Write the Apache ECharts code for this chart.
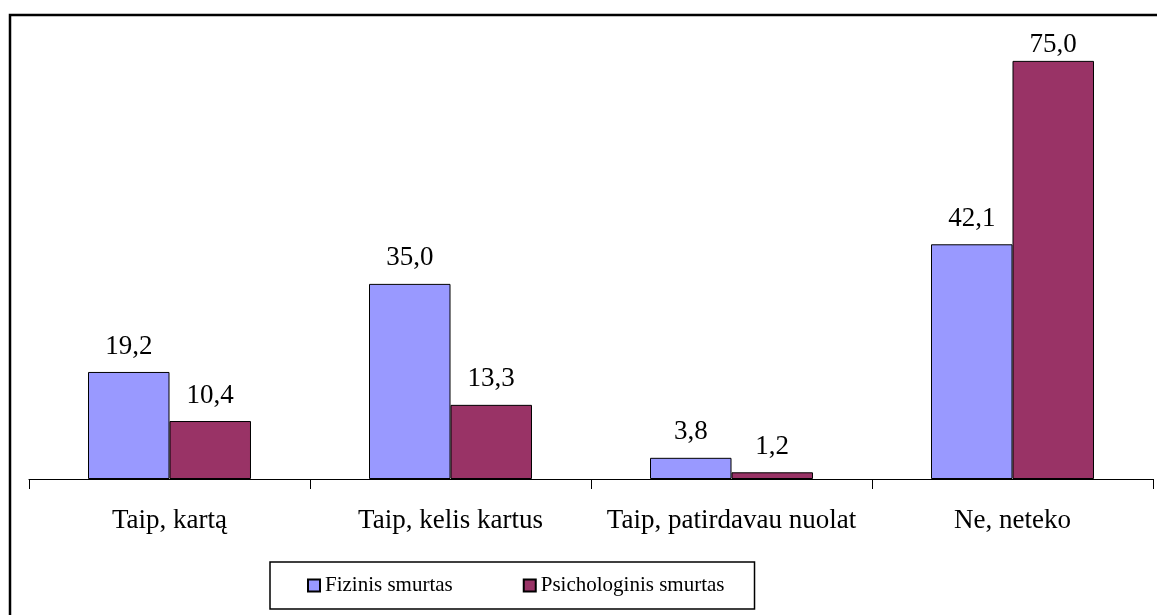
<!DOCTYPE html>
<html>
<head>
<meta charset="utf-8">
<script src="https://cdn.jsdelivr.net/npm/echarts@6/dist/echarts.min.js"></script>
<style>
  html, body { margin: 0; padding: 0; background: #fff; }
  #chart { width: 1157px; height: 615px; }
</style>
</head>
<body>
<div id="chart"></div>
<script>
const categories = ['Taip, kartą', 'Taip, kelis kartus', 'Taip, patirdavau nuolat', 'Ne, neteko'];
const fizinis = [19.2, 35.0, 3.8, 42.1];
const psichologinis = [10.4, 13.3, 1.2, 75.0];
const seriesNames = ['Fizinis smurtas', 'Psichologinis smurtas'];

const font = '"Liberation Serif", "Times New Roman", serif';

const fmt = (p) => p.value.toFixed(1).replace('.', ',');

// the tallest label sits closer to its bar, squeezed under the top of the plot
const withLabels = (arr) => arr.map((v) => v > 70 ? { value: v, label: { distance: 2 } } : v);

const chart = echarts.init(document.getElementById('chart'));

chart.setOption({
    animation: false,
    backgroundColor: '#fff',
    textStyle: { fontFamily: font, color: '#000' },
    grid: { left: 29, right: 4, top: 33, bottom: 136 },
    graphic: [
        {
            type: 'rect',
            shape: { x: 10, y: 15, width: 1170, height: 640 },
            style: { fill: 'none', stroke: '#000', lineWidth: 2.5 },
            silent: true
        }
    ],
    legend: {
        left: 270,
        top: 562,
        itemWidth: 12,
        itemHeight: 12,
        itemGap: 70,
        padding: [13, 30, 13, 37],
        borderColor: '#000',
        borderWidth: 1.5,
        icon: 'rect',
        textStyle: { fontFamily: font, fontSize: 21, color: '#000' },
        data: seriesNames
    },
    xAxis: {
        type: 'category',
        data: categories,
        axisLine: { lineStyle: { color: '#000', width: 1.2 } },
        axisTick: { show: true, interval: 0, length: 10, inside: false, lineStyle: { color: '#000' } },
        axisLabel: { interval: 0, fontFamily: font, fontSize: 27, color: '#000', margin: 28 }
    },
    yAxis: {
        type: 'value',
        min: 0,
        max: 80,
        show: false,
        splitLine: { show: false }
    },
    series: [
        {
            name: seriesNames[0],
            type: 'bar',
            data: withLabels(fizinis),
            barGap: '0%',
            barCategoryGap: '42%',
            itemStyle: { color: '#9999ff', borderColor: '#000', borderWidth: 1 },
            label: { show: true, position: 'top', distance: 12, formatter: fmt, fontFamily: font, fontSize: 27, color: '#000' }
        },
        {
            name: seriesNames[1],
            type: 'bar',
            data: withLabels(psichologinis),
            barGap: '0%',
            barCategoryGap: '42%',
            itemStyle: { color: '#993366', borderColor: '#000', borderWidth: 1 },
            label: { show: true, position: 'top', distance: 12, formatter: fmt, fontFamily: font, fontSize: 27, color: '#000' }
        }
    ]
});
</script>
</body>
</html>
